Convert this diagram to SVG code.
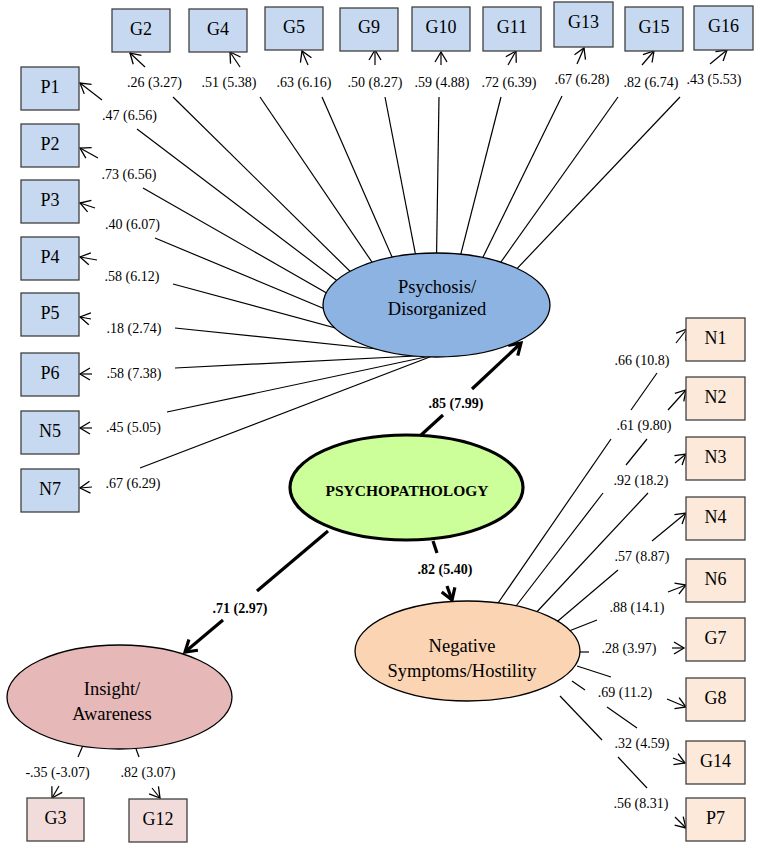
<svg xmlns="http://www.w3.org/2000/svg" width="761" height="850" viewBox="0 0 761 850">
<defs>
<style>
text{font-family:"Liberation Serif","Times New Roman",serif;fill:#000}
.lbl{font-size:14px;text-anchor:middle}
.blbl{font-size:14px;font-weight:bold;text-anchor:middle}
.box{font-size:18px;text-anchor:middle}
.el{font-size:18.5px;text-anchor:middle}
.ln{stroke:#000;stroke-width:1.2;fill:none}
.ar{stroke:#000;stroke-width:1.2;fill:none;marker-end:url(#a)}
.tk{stroke:#000;stroke-width:3.2;fill:none}
.tka{stroke:#000;stroke-width:3.2;fill:none;marker-end:url(#ta)}
.bb{fill:#c6d9f1;stroke:#404040;stroke-width:1.3}
.pb{fill:#fde9d9;stroke:#404040;stroke-width:1.3}
.ib{fill:#f2dcdb;stroke:#404040;stroke-width:1.3}
</style>
<marker id="a" markerUnits="userSpaceOnUse" markerWidth="14" markerHeight="14" viewBox="0 0 14 14" refX="12" refY="7" orient="auto" overflow="visible">
<path d="M2,1 L12,7 L2,13" fill="none" stroke="#000" stroke-width="1.3"/>
</marker>
<marker id="ta" markerUnits="userSpaceOnUse" markerWidth="16" markerHeight="16" viewBox="0 0 16 16" refX="13" refY="8" orient="auto" overflow="visible">
<path d="M2,1 L13,8 L2,15" fill="none" stroke="#000" stroke-width="3.2"/>
</marker>
</defs>
<rect width="761" height="850" fill="#fff"/>

<g id="connectors">
<!-- Psychosis fan: top -->
<line class="ln" x1="435" y1="355" x2="173" y2="97"/>
<line class="ln" x1="435" y1="355" x2="260" y2="97"/>
<line class="ln" x1="435" y1="355" x2="322" y2="97"/>
<line class="ln" x1="435" y1="355" x2="385" y2="97"/>
<line class="ln" x1="435" y1="355" x2="439" y2="97"/>
<line class="ln" x1="435" y1="355" x2="501" y2="97"/>
<line class="ln" x1="435" y1="355" x2="562" y2="96"/>
<line class="ln" x1="435" y1="355" x2="618" y2="97"/>
<line class="ln" x1="435" y1="355" x2="680" y2="97"/>
<line class="ar" x1="145" y1="67" x2="130" y2="53"/>
<line class="ar" x1="240" y1="67" x2="230" y2="52"/>
<line class="ar" x1="308" y1="65" x2="302" y2="51"/>
<line class="ar" x1="375" y1="65" x2="375" y2="50"/>
<line class="ar" x1="441" y1="65" x2="441" y2="52"/>
<line class="ar" x1="508" y1="65" x2="516" y2="51"/>
<line class="ar" x1="577" y1="64" x2="584" y2="48"/>
<line class="ar" x1="642" y1="65" x2="654" y2="51"/>
<line class="ar" x1="710" y1="64" x2="727" y2="50"/>
<text class="lbl" x="154.5" y="87">.26 (3.27)</text>
<text class="lbl" x="229" y="87">.51 (5.38)</text>
<text class="lbl" x="304" y="87">.63 (6.16)</text>
<text class="lbl" x="375" y="87">.50 (8.27)</text>
<text class="lbl" x="442" y="87">.59 (4.88)</text>
<text class="lbl" x="509" y="87">.72 (6.39)</text>
<text class="lbl" x="582" y="84">.67 (6.28)</text>
<text class="lbl" x="651" y="87">.82 (6.74)</text>
<text class="lbl" x="714" y="84">.43 (5.53)</text>
<!-- Psychosis fan: left -->
<line class="ln" x1="435" y1="355" x2="137" y2="129"/>
<line class="ln" x1="435" y1="355" x2="143" y2="188"/>
<line class="ln" x1="435" y1="355" x2="155" y2="238"/>
<line class="ln" x1="435" y1="355" x2="173" y2="284"/>
<line class="ln" x1="435" y1="355" x2="175" y2="328"/>
<line class="ln" x1="435" y1="355" x2="175" y2="368"/>
<line class="ln" x1="435" y1="355" x2="167" y2="412"/>
<line class="ln" x1="435" y1="355" x2="140" y2="468"/>
<line class="ar" x1="102" y1="100" x2="80" y2="83"/>
<line class="ar" x1="98" y1="158" x2="80" y2="148"/>
<line class="ar" x1="95" y1="208" x2="80" y2="203"/>
<line class="ar" x1="97" y1="260" x2="80" y2="257"/>
<line class="ar" x1="91" y1="319" x2="80" y2="317"/>
<line class="ar" x1="92" y1="374" x2="80" y2="374"/>
<line class="ar" x1="92" y1="428" x2="80" y2="428"/>
<line class="ar" x1="92" y1="487" x2="80" y2="488"/>
<text class="lbl" x="129.5" y="120">.47 (6.56)</text>
<text class="lbl" x="129" y="179">.73 (6.56)</text>
<text class="lbl" x="132.5" y="229">.40 (6.07)</text>
<text class="lbl" x="132" y="281">.58 (6.12)</text>
<text class="lbl" x="134" y="333">.18 (2.74)</text>
<text class="lbl" x="134" y="378">.58 (7.38)</text>
<text class="lbl" x="133.5" y="432">.45 (5.05)</text>
<text class="lbl" x="133" y="488">.67 (6.29)</text>
<!-- Psychopathology paths -->
<line class="tk" x1="420" y1="436" x2="443" y2="415"/>
<line class="tka" x1="472" y1="389" x2="521" y2="343"/>
<text class="blbl" x="456" y="408">.85 (7.99)</text>
<line class="tk" x1="328" y1="531" x2="257" y2="591"/>
<line class="tka" x1="223" y1="620" x2="185" y2="652"/>
<text class="blbl" x="240" y="613">.71 (2.97)</text>
<line class="tk" x1="433" y1="541" x2="437" y2="553"/>
<line class="tka" x1="447" y1="586" x2="452" y2="600"/>
<text class="blbl" x="445" y="574">.82 (5.40)</text>
<!-- Negative fan -->
<line class="ln" x1="496" y1="606" x2="611" y2="439"/>
<line class="ln" x1="631" y1="410" x2="657" y2="373"/>
<line class="ar" x1="676" y1="343" x2="687" y2="329"/>
<line class="ln" x1="513" y1="610" x2="603" y2="493"/>
<line class="ln" x1="626" y1="465" x2="647" y2="439"/>
<line class="ar" x1="668" y1="410" x2="686" y2="390"/>
<line class="ln" x1="533" y1="616" x2="648" y2="493"/>
<line class="ar" x1="675" y1="463" x2="686" y2="454"/>
<line class="ln" x1="552" y1="626" x2="618" y2="570"/>
<line class="ar" x1="652" y1="541" x2="686" y2="513"/>
<line class="ln" x1="564" y1="633" x2="597" y2="620"/>
<line class="ar" x1="668" y1="592" x2="686" y2="585"/>
<line class="ln" x1="576" y1="652" x2="589" y2="652"/>
<line class="ar" x1="672" y1="648" x2="684" y2="648"/>
<line class="ln" x1="577" y1="666" x2="611" y2="677"/>
<line class="ar" x1="667" y1="699" x2="686" y2="707"/>
<line class="ln" x1="572" y1="681" x2="585" y2="690"/>
<line class="ln" x1="607" y1="707" x2="637" y2="728"/>
<line class="ar" x1="673" y1="758" x2="685" y2="763"/>
<line class="ln" x1="560" y1="696" x2="602" y2="740"/>
<line class="ln" x1="618" y1="757" x2="647" y2="788"/>
<line class="ar" x1="675" y1="817" x2="686" y2="828"/>
<text class="lbl" x="642" y="365">.66 (10.8)</text>
<text class="lbl" x="644" y="430">.61 (9.80)</text>
<text class="lbl" x="641" y="485">.92 (18.2)</text>
<text class="lbl" x="642" y="561">.57 (8.87)</text>
<text class="lbl" x="637" y="612">.88 (14.1)</text>
<text class="lbl" x="629" y="653">.28 (3.97)</text>
<text class="lbl" x="625" y="697">.69 (11.2)</text>
<text class="lbl" x="642" y="748">.32 (4.59)</text>
<text class="lbl" x="641" y="808">.56 (8.31)</text>
<!-- Insight -->
<line class="ln" x1="84" y1="743" x2="78" y2="757"/>
<line class="ln" x1="135" y1="746" x2="139" y2="757"/>
<line class="ar" x1="59" y1="786" x2="52" y2="798"/>
<line class="ar" x1="152" y1="788" x2="160" y2="798"/>
<text class="lbl" x="57.5" y="777">-.35 (-3.07)</text>
<text class="lbl" x="148" y="777">.82 (3.07)</text>
</g>

<g id="psychosis"><ellipse cx="436.5" cy="305" rx="113.5" ry="52" fill="#8db3e2" stroke="#000" stroke-width="1.3"/><text class="el" x="437" y="293">Psychosis/</text><text class="el" x="437" y="315">Disorganized</text></g>
<g id="psychopathology"><ellipse cx="406.5" cy="487.5" rx="116.5" ry="52.5" fill="#ccff99" stroke="#000" stroke-width="3.2"/><text x="407" y="496" font-size="15.5" font-weight="bold" text-anchor="middle">PSYCHOPATHOLOGY</text></g>
<g id="negative"><ellipse cx="467.5" cy="651" rx="112.5" ry="50" fill="#fbd4b4" stroke="#000" stroke-width="1.3"/><text class="el" x="462" y="652">Negative</text><text class="el" x="462" y="677">Symptoms/Hostility</text></g>
<g id="insight"><ellipse cx="119.5" cy="697" rx="112.5" ry="52" fill="#e6b9b8" stroke="#000" stroke-width="1.3"/><text class="el" x="112" y="695">Insight/</text><text class="el" x="112" y="720">Awareness</text></g>

<g id="G2"><rect class="bb" x="112" y="9" width="58" height="43"/><text class="box" x="141" y="35">G2</text></g>
<g id="G4"><rect class="bb" x="189" y="9" width="58" height="43"/><text class="box" x="218" y="35">G4</text></g>
<g id="G5"><rect class="bb" x="265" y="7" width="58" height="43"/><text class="box" x="294" y="33">G5</text></g>
<g id="G9"><rect class="bb" x="340" y="8" width="58" height="43"/><text class="box" x="369" y="33">G9</text></g>
<g id="G10"><rect class="bb" x="412" y="7" width="58" height="44"/><text class="box" x="441" y="33">G10</text></g>
<g id="G11"><rect class="bb" x="483" y="7" width="58" height="44"/><text class="box" x="512" y="33">G11</text></g>
<g id="G13"><rect class="bb" x="554" y="2" width="59" height="45"/><text class="box" x="583.5" y="28">G13</text></g>
<g id="G15"><rect class="bb" x="625" y="7" width="58" height="44"/><text class="box" x="654" y="33">G15</text></g>
<g id="G16"><rect class="bb" x="694" y="6" width="59" height="44"/><text class="box" x="723.5" y="32">G16</text></g>

<g id="P1"><rect class="bb" x="21" y="67" width="58" height="43"/><text class="box" x="50" y="93">P1</text></g>
<g id="P2"><rect class="bb" x="21" y="124" width="58" height="43"/><text class="box" x="50" y="150">P2</text></g>
<g id="P3"><rect class="bb" x="21" y="180" width="58" height="43"/><text class="box" x="50" y="206">P3</text></g>
<g id="P4"><rect class="bb" x="21" y="237" width="58" height="43"/><text class="box" x="50" y="263">P4</text></g>
<g id="P5"><rect class="bb" x="21" y="293" width="58" height="43"/><text class="box" x="50" y="319">P5</text></g>
<g id="P6"><rect class="bb" x="21" y="353" width="58" height="43"/><text class="box" x="50" y="379">P6</text></g>
<g id="N5"><rect class="bb" x="21" y="411" width="58" height="43"/><text class="box" x="50" y="437">N5</text></g>
<g id="N7"><rect class="bb" x="21" y="469" width="58" height="43"/><text class="box" x="50" y="495">N7</text></g>

<g id="N1"><rect class="pb" x="686" y="318" width="59" height="43"/><text class="box" x="715.5" y="344">N1</text></g>
<g id="N2"><rect class="pb" x="686" y="377" width="59" height="43"/><text class="box" x="715.5" y="403">N2</text></g>
<g id="N3"><rect class="pb" x="686" y="437" width="59" height="43"/><text class="box" x="715.5" y="463">N3</text></g>
<g id="N4"><rect class="pb" x="686" y="497" width="59" height="43"/><text class="box" x="715.5" y="523">N4</text></g>
<g id="N6"><rect class="pb" x="686" y="559" width="59" height="43"/><text class="box" x="715.5" y="585">N6</text></g>
<g id="G7"><rect class="pb" x="686" y="618" width="59" height="43"/><text class="box" x="715.5" y="644">G7</text></g>
<g id="G8"><rect class="pb" x="686" y="678" width="59" height="43"/><text class="box" x="715.5" y="704">G8</text></g>
<g id="G14"><rect class="pb" x="686" y="741" width="59" height="43"/><text class="box" x="715.5" y="767">G14</text></g>
<g id="P7"><rect class="pb" x="686" y="798" width="59" height="43"/><text class="box" x="715.5" y="824">P7</text></g>

<g id="G3"><rect class="ib" x="27" y="798" width="57" height="43"/><text class="box" x="55.5" y="824">G3</text></g>
<g id="G12"><rect class="ib" x="129" y="799" width="58" height="43"/><text class="box" x="158" y="825">G12</text></g>
</svg>
